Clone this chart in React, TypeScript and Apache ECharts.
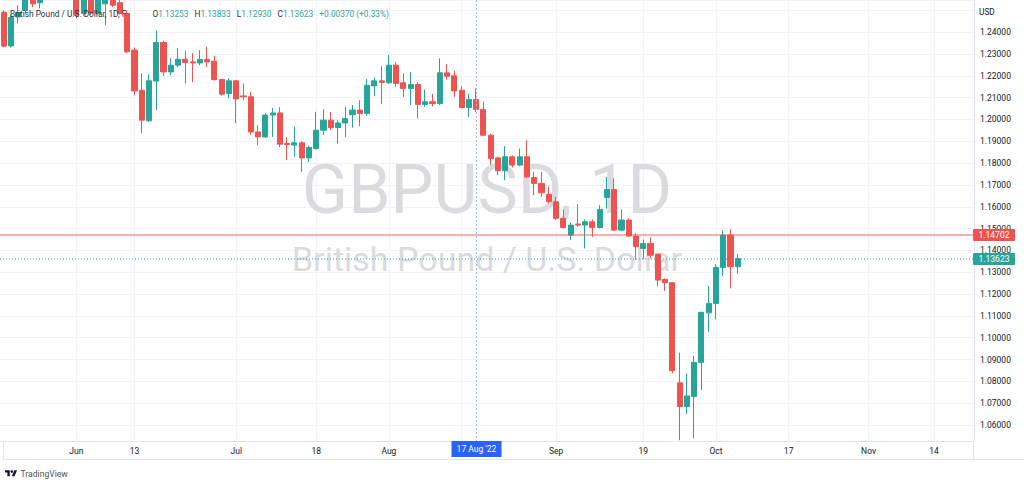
import React, { useEffect, useRef } from 'react';
import * as echarts from 'echarts';

const FONT = 'Roboto, "Noto Sans", "DejaVu Sans", sans-serif';

// ---- trading days on the category axis (weekdays) ----
const mayDays = [18, 19, 20, 23, 24, 25, 26, 27, 30, 31];
const junDays = [1, 2, 3, 6, 7, 8, 9, 10, 13, 14, 15, 16, 17, 20, 21, 22, 23, 24, 27, 28, 29, 30];
const julDays = [1, 4, 5, 6, 7, 8, 11, 12, 13, 14, 15, 18, 19, 20, 21, 22, 25, 26, 27, 28, 29];
const augDays = [1, 2, 3, 4, 5, 8, 9, 10, 11, 12, 15, 16, 17, 18, 19, 22, 23, 24, 25, 26, 29, 30, 31];
const sepDays = [1, 2, 5, 6, 7, 8, 9, 12, 13, 14, 15, 16, 19, 20, 21, 22, 23, 26, 27, 28, 29, 30];
const octDays = [3, 4, 5, 6, 7, 10, 11, 12, 13, 14, 17, 18, 19, 20, 21, 24, 25, 26, 27, 28, 31];
const novDays = [1, 2, 3, 4, 7, 8, 9, 10, 11, 14, 15, 16, 17, 18, 21];

// ---- time-axis tick labels ----
const tickLabels: Record<string, string> = {
  '2022-06-01': 'Jun',
  '2022-06-13': '13',
  '2022-07-01': 'Jul',
  '2022-07-18': '18',
  '2022-08-01': 'Aug',
  '2022-09-01': 'Sep',
  '2022-09-19': '19',
  '2022-10-03': 'Oct',
  '2022-10-17': '17',
  '2022-11-01': 'Nov',
  '2022-11-14': '14',
};
const gridDates = [...Object.keys(tickLabels), '2022-08-15'];
const crosshairDate = '2022-08-17';
const crosshairLabel = "17 Aug '22";

// ---- OHLC (May 18 .. Oct 6, 2022) ----
const opens = [
  1.2492, 1.2337, 1.2470, 1.2500, 1.2570, 1.2535, 1.2570, 1.2625, 1.2622, 1.2630,
  1.2620, 1.2486, 1.2590, 1.2486, 1.2530, 1.2590, 1.2535, 1.2486, 1.2318, 1.2134,
  1.1994, 1.2176, 1.2353, 1.2218, 1.2249, 1.2276, 1.2264, 1.2259, 1.2275, 1.2267,
  1.2183, 1.2119, 1.2177, 1.2108, 1.2104, 1.1943, 1.1920, 1.2020, 1.2030, 1.1890,
  1.1883, 1.1893, 1.1824, 1.1867, 1.1951, 1.1997, 1.1963, 1.1984, 1.2022, 1.2043,
  1.2028, 1.2154, 1.2177, 1.2168, 1.2249, 1.2168, 1.2142, 1.2160, 1.2069, 1.2081,
  1.2073, 1.2214, 1.2200, 1.2134, 1.2055, 1.2092, 1.2046, 1.1928, 1.1824, 1.1765,
  1.1829, 1.1791, 1.1829, 1.1734, 1.1707, 1.1657, 1.1623, 1.1547, 1.1470, 1.1521,
  1.1516, 1.1531, 1.1505, 1.1643, 1.1679, 1.1493, 1.1539, 1.1466, 1.1409, 1.1432,
  1.1383, 1.1267, 1.1252, 1.0793, 1.0684, 1.0730, 1.0887, 1.1114, 1.1157, 1.1322,
  1.14702, 1.13253,
];
const highs = [
  1.2500, 1.2480, 1.2524, 1.2600, 1.2600, 1.2600, 1.2640, 1.2665, 1.2665, 1.2666,
  1.2640, 1.2600, 1.2600, 1.2600, 1.2600, 1.2600, 1.2560, 1.2500, 1.2330, 1.2212,
  1.2208, 1.2409, 1.2360, 1.2281, 1.2327, 1.2314, 1.2304, 1.2318, 1.2333, 1.2292,
  1.2185, 1.2189, 1.2180, 1.2165, 1.2126, 1.1974, 1.2030, 1.2052, 1.2056, 1.1919,
  1.1969, 1.1900, 1.1880, 1.2035, 1.2047, 1.2034, 1.1997, 1.2058, 1.2066, 1.2088,
  1.2185, 1.2192, 1.2244, 1.2295, 1.2264, 1.2211, 1.2218, 1.2172, 1.2137, 1.2118,
  1.2280, 1.2253, 1.2224, 1.2153, 1.2119, 1.2142, 1.2081, 1.1935, 1.1829, 1.1878,
  1.1835, 1.1867, 1.1905, 1.1760, 1.1760, 1.1692, 1.1645, 1.1588, 1.1527, 1.1612,
  1.1542, 1.1542, 1.1607, 1.1737, 1.1730, 1.1588, 1.1547, 1.1478, 1.1450, 1.1460,
  1.1383, 1.1272, 1.1255, 1.0931, 1.0836, 1.0916, 1.1119, 1.1237, 1.1337, 1.1493,
  1.1496, 1.13833,
];
const lows = [
  1.2330, 1.2330, 1.2440, 1.2490, 1.2515, 1.2509, 1.2555, 1.2590, 1.2600, 1.2580,
  1.2465, 1.2475, 1.2480, 1.2480, 1.2432, 1.2515, 1.2480, 1.2304, 1.2111, 1.1937,
  1.1990, 1.2043, 1.2200, 1.2203, 1.2240, 1.2165, 1.2171, 1.2249, 1.2241, 1.2178,
  1.2109, 1.2098, 1.1983, 1.2088, 1.1930, 1.1882, 1.1915, 1.1920, 1.1874, 1.1814,
  1.1829, 1.1760, 1.1805, 1.1862, 1.1928, 1.1951, 1.1890, 1.1920, 1.1963, 1.1969,
  1.2016, 1.2107, 1.2070, 1.2165, 1.2150, 1.2104, 1.2066, 1.2005, 1.2058, 1.2060,
  1.2066, 1.2183, 1.2104, 1.2050, 1.2012, 1.2035, 1.1924, 1.1791, 1.1745, 1.1722,
  1.1780, 1.1786, 1.1730, 1.1653, 1.1646, 1.1615, 1.1539, 1.1501, 1.1447, 1.1508,
  1.1409, 1.1462, 1.1501, 1.1592, 1.1490, 1.1488, 1.1462, 1.1356, 1.1359, 1.1363,
  1.1236, 1.1215, 1.0837, 1.0530, 1.0650, 1.0539, 1.0760, 1.1027, 1.1084, 1.1282,
  1.1226, 1.12930,
];
const closes = [
  1.2336, 1.2467, 1.2490, 1.2570, 1.2530, 1.2570, 1.2625, 1.2620, 1.2630, 1.2620,
  1.2478, 1.2590, 1.2488, 1.2560, 1.2590, 1.2524, 1.2486, 1.2310, 1.2131, 1.1997,
  1.2177, 1.2353, 1.2218, 1.2249, 1.2276, 1.2261, 1.2259, 1.2275, 1.2264, 1.2183,
  1.2116, 1.2177, 1.2094, 1.2104, 1.1943, 1.1920, 1.2020, 1.2030, 1.1887, 1.1885,
  1.1893, 1.1824, 1.1872, 1.1951, 1.1997, 1.1963, 1.1984, 1.2005, 1.2043, 1.2028,
  1.2157, 1.2177, 1.2170, 1.2249, 1.2165, 1.2142, 1.2160, 1.2069, 1.2081, 1.2073,
  1.2214, 1.2198, 1.2131, 1.2055, 1.2092, 1.2046, 1.1928, 1.1821, 1.1765, 1.1829,
  1.1791, 1.1829, 1.1737, 1.1707, 1.1664, 1.1623, 1.1547, 1.1505, 1.1516, 1.1516,
  1.1531, 1.1505, 1.1588, 1.1679, 1.1493, 1.1539, 1.1466, 1.1417, 1.1432, 1.1378,
  1.1264, 1.1252, 1.0849, 1.0684, 1.0733, 1.0887, 1.1116, 1.1157, 1.1322, 1.14702,
  1.13253, 1.13623,
];

// horizontal price line (red) and last price (teal)
const priceLine = 1.14702;

// visible price range of the pane
const Y_MIN = 1.05265;
const Y_MAX = 1.25476;

const GREEN = '#26a69a';
const RED = '#ef5350';

const LOGO_D =
  'M14 22H7V11H0V4h14v18zM28 22h-8l7.5-18h8L28 22zM20 12a4 4 0 1 0 0-8a4 4 0 0 0 0 8z';
let logoRegistered = false;
function registerLogo() {
  if (logoRegistered) return;
  echarts.graphic.registerShape('tvlogo', echarts.graphic.extendPath(LOGO_D, {}) as any);
  logoRegistered = true;
}

function buildCategories(): string[] {
  const months: [string, number[]][] = [
    ['2022-05', mayDays],
    ['2022-06', junDays],
    ['2022-07', julDays],
    ['2022-08', augDays],
    ['2022-09', sepDays],
    ['2022-10', octDays],
    ['2022-11', novDays],
  ];
  const out: string[] = [];
  months.forEach(([m, days]) =>
    days.forEach((d) => out.push(`${m}-${String(d).padStart(2, '0')}`))
  );
  return out;
}

function txt(x: number, y: number, text: string, size: number, fill: string, align = 'left', z = 100, extra: any = {}) {
  return {
    type: 'text',
    x,
    y,
    z,
    silent: true,
    style: {
      text,
      fill,
      fontSize: size,
      fontFamily: FONT,
      align,
      verticalAlign: 'middle',
      textAlign: align,
      textVerticalAlign: 'middle',
      ...extra,
    },
  };
}

export default function App() {
  const ref = useRef<HTMLDivElement>(null);

  useEffect(() => {
    if (!ref.current) return;
    registerLogo();
    const chart = echarts.init(ref.current, null, { renderer: 'svg' });
    const categories = buildCategories();
    const candles = opens.map((o, i) => [o, closes[i], lows[i], highs[i]]);
    const last = closes.length - 1;
    const lastClose = closes[last];

    const option: any = {
      animation: false,
      backgroundColor: '#ffffff',
      grid: { left: 0, right: 50, top: 0, bottom: 44, containLabel: false },
      xAxis: {
        type: 'category',
        data: categories,
        boundaryGap: true,
        z: 0,
        axisLine: { show: true, lineStyle: { color: '#e0e3eb', width: 1 } },
        axisTick: { show: false },
        axisLabel: {
          interval: (_i: number, v: string) => v in tickLabels,
          formatter: (v: string) => tickLabels[v] ?? '',
          color: '#131722',
          fontSize: 8.5,
          fontFamily: FONT,
          margin: 5,
        },
        splitLine: {
          show: true,
          alignWithLabel: true,
          interval: (_i: number, v: string) => gridDates.includes(v),
          lineStyle: { color: '#f0f3fa', width: 1 },
        },
      },
      yAxis: {
        type: 'value',
        position: 'right',
        min: Y_MIN,
        max: Y_MAX,
        splitNumber: 20,
        minInterval: 0.01,
        maxInterval: 0.01,
        axisLine: { show: true, lineStyle: { color: '#e0e3eb', width: 1 } },
        axisTick: { show: false },
        axisLabel: {
          showMinLabel: false,
          showMaxLabel: false,
          formatter: (v: number) => (v > 1.245 || v < 1.055 ? '' : v.toFixed(5)),
          color: '#131722',
          fontSize: 8.5,
          fontFamily: FONT,
          margin: 6,
          align: 'left',
        },
        splitLine: { show: true, lineStyle: { color: '#f0f3fa', width: 1 } },
      },
      series: [
        {
          type: 'candlestick',
          data: candles,
          barWidth: 5.6,
          clip: true,
          z: 2,
          itemStyle: {
            color: GREEN,
            color0: RED,
            borderColor: GREEN,
            borderColor0: RED,
            borderWidth: 1,
          },
        },
      ],
    };
    chart.setOption(option);

    const yRed = chart.convertToPixel({ yAxisIndex: 0 }, priceLine) as number;
    const yTeal = chart.convertToPixel({ yAxisIndex: 0 }, lastClose) as number;
    const xc = Math.round(chart.convertToPixel({ xAxisIndex: 0 }, crosshairDate) as number) + 0.5;
    const axisY = 441;
    const paneRight = 974;
    const cx = paneRight / 2;
    const yRedC = Math.round(yRed);
    const yTealC = Math.round(yTeal);

    const o = opens[last];
    const h = highs[last];
    const l = lows[last];
    const c = closes[last];
    const chg = c - closes[last - 1];
    const pct = (chg / closes[last - 1]) * 100;
    const sign = chg >= 0 ? '+' : '-';
    const valStr =
      `{l|O}{v|${o.toFixed(5)}}   {l|H}{v|${h.toFixed(5)}}   {l|L}{v|${l.toFixed(5)}}   {l|C}{v|${c.toFixed(5)}}   ` +
      `{v|${sign}${Math.abs(chg).toFixed(5)} (${sign}${Math.abs(pct).toFixed(2)}%)}`;

    const graphic: any[] = [
      // watermark
      txt(cx, 190, 'GBPUSD, 1D', 68, '#dadbde', 'center', 0),
      txt(cx, 259, 'British Pound / U.S. Dollar', 34, '#dadbde', 'center', 0),
      // price lines
      {
        type: 'line',
        z: 40,
        silent: true,
        shape: { x1: 0, y1: yRedC, x2: paneRight, y2: yRedC },
        style: { stroke: RED, lineWidth: 1, opacity: 0.9 },
      },
      {
        type: 'line',
        z: 40,
        silent: true,
        shape: { x1: 0, y1: yTealC, x2: paneRight, y2: yTealC },
        style: { stroke: GREEN, lineWidth: 1, lineDash: [1, 2] },
      },
      // legend
      txt(10, 13.5, 'British Pound / U.S. Dollar, 1D, F', 8.3, '#2a2e39', 'left', 100),
      {
        type: 'text',
        x: 152.5,
        y: 13.5,
        z: 100,
        silent: true,
        style: {
          text: valStr,
          fontSize: 8.3,
          fontFamily: FONT,
          fill: GREEN,
          verticalAlign: 'middle',
          textVerticalAlign: 'middle',
          rich: {
            l: { fill: '#2a2e39', color: '#2a2e39', fontSize: 8.3, fontFamily: FONT },
            v: { fill: GREEN, color: GREEN, fontSize: 8.3, fontFamily: FONT },
          },
        },
      },
      // currency
      txt(979, 12, 'USD', 8.3, '#131722', 'left', 100),
      // crosshair
      {
        type: 'line',
        z: 50,
        silent: true,
        shape: { x1: xc, y1: 0, x2: xc, y2: axisY },
        style: { stroke: '#a3b8f5', lineWidth: 1, lineDash: [2, 2] },
      },
      {
        type: 'rect',
        z: 60,
        silent: true,
        shape: { x: xc - 25, y: axisY, width: 50, height: 16 },
        style: { fill: '#2962ff' },
      },
      txt(xc, axisY + 8, crosshairLabel, 8.5, '#ffffff', 'center', 61),
      // price badges
      {
        type: 'rect',
        z: 100,
        silent: true,
        shape: { x: 973, y: Math.round(yRed) - 6, width: 42, height: 12, r: 1 },
        style: { fill: RED },
      },
      txt(994, Math.round(yRed), priceLine.toFixed(5), 8.5, '#ffffff', 'center', 101),
      {
        type: 'rect',
        z: 100,
        silent: true,
        shape: { x: 973, y: Math.round(yTeal) - 6, width: 42, height: 12, r: 1 },
        style: { fill: GREEN },
      },
      txt(994, Math.round(yTeal), lastClose.toFixed(5), 8.5, '#ffffff', 'center', 101),
      // time scale frame
      {
        type: 'line',
        z: 10,
        silent: true,
        shape: { x1: 3, y1: 459.5, x2: 1024, y2: 459.5 },
        style: { stroke: '#e0e3eb', lineWidth: 1 },
      },
      {
        type: 'line',
        z: 10,
        silent: true,
        shape: { x1: 3.5, y1: axisY, x2: 3.5, y2: 460 },
        style: { stroke: '#e0e3eb', lineWidth: 1 },
      },
      {
        type: 'line',
        z: 10,
        silent: true,
        shape: { x1: paneRight - 0.5, y1: axisY, x2: paneRight - 0.5, y2: 460 },
        style: { stroke: '#e0e3eb', lineWidth: 1 },
      },
      // TradingView brand
      {
        type: 'tvlogo',
        x: 5,
        y: 468.8,
        scaleX: 0.34,
        scaleY: 0.34,
        z: 100,
        silent: true,
        style: { fill: '#131722' },
      },
      txt(20.5, 473.5, 'TradingView', 8.6, '#50535e', 'left', 100),
    ];
    chart.setOption({ graphic });

    return () => {
      chart.dispose();
    };
  }, []);

  return (
    <div
      ref={ref}
      style={{ position: 'fixed', left: 0, top: 0, width: 1024, height: 485, background: '#ffffff' }}
    />
  );
}
